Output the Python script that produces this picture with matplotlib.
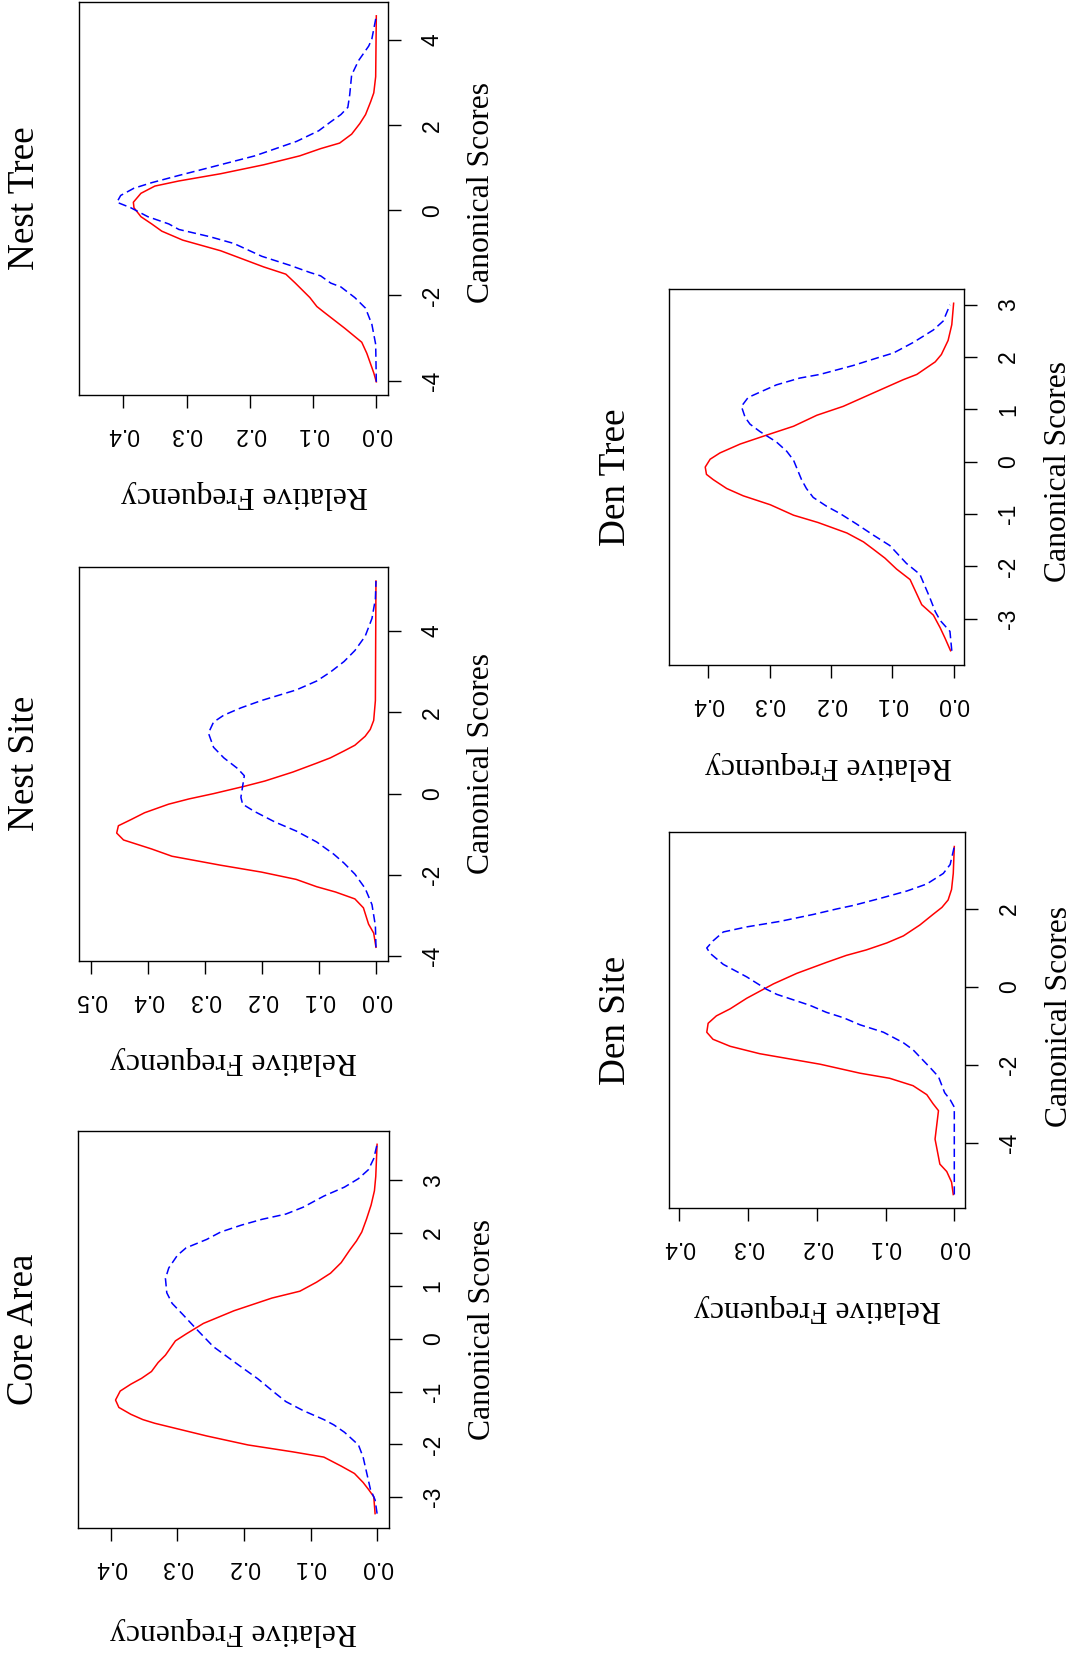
import numpy as np
import matplotlib
matplotlib.use("Agg")
import matplotlib.pyplot as plt

# canonical score (y) vs relative frequency (x) for each panel, red = solid, blue = dashed
nest_tree_red_score = [-4.03, -3.82, -3.36, -3.10, -2.77, -2.39, -2.26, -2.05, -1.71, -1.50, -1.33, -0.95,
                       -0.70, -0.49, -0.32, -0.15, 0.06, 0.19, 0.40, 0.57, 0.69, 0.86, 1.07, 1.28, 1.45,
                       1.58, 1.79, 2.04, 2.25, 2.55, 2.76, 3.14, 4.57]
nest_tree_red_dens = [0.0, 0.004, 0.015, 0.023, 0.050, 0.083, 0.094, 0.105, 0.128, 0.143, 0.178, 0.246,
                      0.306, 0.339, 0.355, 0.372, 0.383, 0.384, 0.372, 0.350, 0.312, 0.246, 0.178, 0.121, 0.088,
                      0.058, 0.039, 0.026, 0.017, 0.009, 0.004, 0.001, 0.0]
nest_tree_blue_score = [-4.03, -3.15, -2.68, -2.30, -2.05, -1.80, -1.71, -1.54, -1.46, -1.29, -1.08, -0.78,
                        -0.62, -0.45, -0.32, -0.15, 0.06, 0.19, 0.35, 0.52, 0.65, 0.82, 1.03, 1.28, 1.62,
                        1.87, 2.08, 2.25, 2.42, 2.72, 3.18, 3.52, 3.86, 4.03, 4.57]
nest_tree_blue_dens = [0.0, 0.001, 0.007, 0.017, 0.034, 0.056, 0.072, 0.088, 0.105, 0.137, 0.181, 0.225,
                       0.263, 0.312, 0.328, 0.361, 0.388, 0.410, 0.404, 0.383, 0.355, 0.312, 0.257, 0.192, 0.126,
                       0.091, 0.072, 0.056, 0.045, 0.042, 0.039, 0.028, 0.012, 0.007, 0.0]

nest_site_red_score = [-3.78, -3.43, -3.21, -2.81, -2.59, -2.42, -2.29, -2.11, -1.93, -1.76, -1.54, -1.36,
                       -1.14, -0.97, -0.79, -0.64, -0.47, -0.26, -0.13, 0.0, 0.18, 0.31, 0.53, 0.75, 0.88,
                       1.05, 1.19, 1.41, 1.58, 1.80, 2.29, 5.23]
nest_site_red_dens = [0.0, 0.004, 0.013, 0.022, 0.037, 0.071, 0.104, 0.140, 0.201, 0.273, 0.358, 0.394,
                      0.443, 0.455, 0.452, 0.430, 0.406, 0.364, 0.328, 0.285, 0.231, 0.195, 0.146, 0.104, 0.080,
                      0.056, 0.037, 0.019, 0.010, 0.004, 0.001, 0.0]
nest_site_blue_score = [-3.78, -3.25, -2.73, -2.33, -1.98, -1.71, -1.49, -1.19, -0.92, -0.70, -0.44, -0.26,
                        -0.09, 0.18, 0.44, 0.62, 0.88, 1.14, 1.49, 1.76, 1.93, 2.11, 2.29, 2.55, 2.77,
                        2.99, 3.25, 3.52, 3.87, 4.31, 4.79, 5.23]
nest_site_blue_dens = [0.0, 0.001, 0.007, 0.019, 0.037, 0.056, 0.074, 0.104, 0.140, 0.177, 0.213, 0.234,
                       0.237, 0.234, 0.231, 0.243, 0.267, 0.285, 0.294, 0.285, 0.267, 0.237, 0.201, 0.140, 0.104,
                       0.080, 0.056, 0.037, 0.019, 0.007, 0.001, 0.0]

core_red_score = [-3.31, -2.99, -2.85, -2.72, -2.55, -2.41, -2.24, -2.14, -2.01, -1.84, -1.60, -1.53, -1.43,
                  -1.30, -1.16, -0.99, -0.86, -0.75, -0.62, -0.45, -0.31, -0.04, 0.09, 0.29, 0.53, 0.77,
                  0.90, 1.07, 1.24, 1.44, 1.68, 1.85, 2.02, 2.26, 2.53, 2.80, 3.07, 3.68]
core_red_dens = [0.003, 0.005, 0.013, 0.021, 0.034, 0.054, 0.080, 0.127, 0.194, 0.256, 0.334, 0.352, 0.370,
                 0.388, 0.393, 0.386, 0.370, 0.354, 0.339, 0.329, 0.318, 0.303, 0.287, 0.261, 0.215, 0.158,
                 0.116, 0.091, 0.070, 0.054, 0.041, 0.031, 0.023, 0.016, 0.009, 0.004, 0.002, 0.0]
core_blue_score = [-3.31, -3.05, -2.85, -2.24, -2.01, -1.77, -1.63, -1.53, -1.36, -1.19, -1.03, -0.76, -0.48,
                   -0.15, 0.19, 0.46, 0.67, 0.87, 1.14, 1.34, 1.58, 1.72, 1.88, 2.02, 2.15, 2.26, 2.36,
                   2.49, 2.70, 2.87, 3.03, 3.20, 3.41, 3.68]
core_blue_dens = [0.0, 0.003, 0.010, 0.021, 0.028, 0.049, 0.065, 0.080, 0.111, 0.137, 0.153, 0.179, 0.210,
                  0.246, 0.272, 0.292, 0.308, 0.316, 0.318, 0.313, 0.300, 0.287, 0.256, 0.235, 0.204, 0.173,
                  0.137, 0.111, 0.080, 0.049, 0.028, 0.013, 0.005, 0.0]

den_tree_red_score = [-3.61, -3.37, -3.17, -2.93, -2.73, -2.25, -2.05, -1.84, -1.67, -1.53, -1.36, -1.16,
                      -1.02, -0.82, -0.65, -0.51, -0.34, -0.24, -0.10, 0.05, 0.17, 0.34, 0.51, 0.68, 0.89,
                      1.06, 1.30, 1.57, 1.67, 1.91, 2.05, 2.32, 2.62, 3.03]
den_tree_red_dens = [0.005, 0.014, 0.022, 0.033, 0.052, 0.071, 0.093, 0.112, 0.131, 0.147, 0.174, 0.221,
                     0.261, 0.299, 0.343, 0.370, 0.392, 0.403, 0.405, 0.397, 0.381, 0.348, 0.305, 0.261, 0.223,
                     0.180, 0.134, 0.082, 0.060, 0.030, 0.020, 0.009, 0.003, 0.0]
den_tree_blue_score = [-3.61, -3.24, -3.03, -2.86, -2.59, -2.15, -1.94, -1.60, -1.40, -1.19, -0.99, -0.85,
                       -0.68, -0.51, -0.34, 0.03, 0.20, 0.38, 0.58, 0.72, 0.85, 1.06, 1.23, 1.33, 1.47,
                       1.60, 1.67, 1.84, 1.98, 2.08, 2.28, 2.52, 2.69, 3.00]
den_tree_blue_dens = [0.003, 0.006, 0.022, 0.030, 0.039, 0.055, 0.077, 0.104, 0.131, 0.158, 0.185, 0.207,
                      0.229, 0.240, 0.248, 0.261, 0.272, 0.289, 0.316, 0.332, 0.340, 0.346, 0.335, 0.316, 0.289,
                      0.251, 0.218, 0.164, 0.126, 0.098, 0.066, 0.033, 0.017, 0.006]

den_site_red_score = [-5.32, -5.00, -4.73, -4.54, -4.08, -3.90, -3.17, -2.99, -2.76, -2.53, -2.34, -2.21,
                      -1.98, -1.71, -1.52, -1.34, -1.16, -0.93, -0.74, -0.56, -0.29, 0.08, 0.35, 0.63, 0.81,
                      0.95, 1.13, 1.31, 1.59, 1.86, 2.04, 2.23, 2.50, 2.91, 3.60]
den_site_red_dens = [0.0015, 0.004, 0.011, 0.021, 0.026, 0.028, 0.023, 0.031, 0.040, 0.060, 0.094, 0.137,
                     0.195, 0.283, 0.326, 0.351, 0.360, 0.358, 0.346, 0.326, 0.302, 0.263, 0.229, 0.186, 0.157,
                     0.128, 0.098, 0.074, 0.050, 0.031, 0.018, 0.009, 0.004, 0.0015, 0.0]
den_site_blue_score = [-5.32, -3.08, -2.89, -2.71, -2.30, -2.07, -1.61, -1.43, -1.16, -0.97, -0.79, -0.65,
                       -0.47, -0.33, -0.19, -0.06, 0.26, 0.58, 0.86, 1.00, 1.18, 1.41, 1.54, 1.68, 1.86,
                       2.00, 2.09, 2.27, 2.46, 2.64, 2.91, 3.14, 3.60]
den_site_blue_dens = [0.0, 0.0, 0.006, 0.014, 0.023, 0.035, 0.060, 0.074, 0.103, 0.137, 0.161, 0.186,
                      0.210, 0.234, 0.258, 0.273, 0.302, 0.336, 0.355, 0.360, 0.351, 0.336, 0.302, 0.254, 0.205,
                      0.171, 0.147, 0.108, 0.069, 0.040, 0.016, 0.006, 0.0]

titles = ["Nest Tree", "Nest Site", "Core Area", "Den Tree", "Den Site"]

W, H = 1077, 1659
fig = plt.figure(figsize=(W / 100, H / 100), dpi=100)

serif = "Liberation Serif"
sans = "Liberation Sans"


def panel(box, title, red, blue, dens_lim, score_lim, dens_ticks, score_ticks,
          rf_dx=0, rf_off=100, cs_dy=0):
    # box is in pixels: left, top, right, bottom (the whole page is turned 90 degrees)
    l, t, r, b = box
    ax = fig.add_axes([l / W, 1 - b / H, (r - l) / W, (b - t) / H])
    ax.plot(red[1], red[0], color="#ff0000", lw=1.1)
    ax.plot(blue[1], blue[0], color="#0000ff", lw=1.1, linestyle=(0, (5.4, 2.8)))
    ax.set_xlim(*dens_lim)
    ax.set_ylim(*score_lim)
    ax.yaxis.tick_right()
    ax.set_xticks(dens_ticks)
    ax.set_xticklabels(["%.1f" % v for v in dens_ticks])
    ax.set_yticks(score_ticks)
    ax.set_yticklabels(["%d" % v for v in score_ticks])
    ax.tick_params(axis="x", length=9.0, width=1.0, pad=19.5, labelrotation=180, labelsize=16.5)
    ax.tick_params(axis="y", length=9.7, width=1.0, pad=22.3, labelrotation=90, labelsize=16.5)
    for lab in ax.get_xticklabels() + ax.get_yticklabels():
        lab.set_fontfamily(sans)
        lab.set_verticalalignment("center")
        lab.set_horizontalalignment("center")
    for sp in ax.spines.values():
        sp.set_linewidth(1.0)
    cx = (l + r) / 2
    cy = (t + b) / 2
    fig.text((l - 54) / W, 1 - cy / H, title, rotation=90, ha="center", va="center",
             fontsize=26.7, family=serif)
    fig.text((r + 94) / W, 1 - (cy + cs_dy) / H, "Canonical Scores", rotation=90,
             ha="center", va="center", fontsize=22.8, family=serif)
    fig.text((cx + rf_dx) / W, 1 - (b + rf_off) / H, "Relative Frequency", rotation=180,
             ha="center", va="center", fontsize=22.8, family=serif)
    return ax


panel((78.5, 1.8, 387.7, 394.6), titles[0],
      (nest_tree_red_score, nest_tree_red_dens), (nest_tree_blue_score, nest_tree_blue_dens),
      (0.4707, -0.018), (-4.33, 4.90), [0.0, 0.1, 0.2, 0.3, 0.4], [-4, -2, 0, 2, 4],
      rf_dx=11, cs_dy=-6)
panel((78.5, 566.8, 387.7, 960.7), titles[1],
      (nest_site_red_score, nest_site_red_dens), (nest_site_blue_score, nest_site_blue_dens),
      (0.522, -0.0206), (-4.11, 5.58), [0.0, 0.1, 0.2, 0.3, 0.4, 0.5], [-4, -2, 0, 2, 4])
panel((77.8, 1131.1, 388.8, 1527.9), titles[2],
      (core_red_score, core_red_dens), (core_blue_score, core_blue_dens),
      (0.4497, -0.0176), (-3.58, 3.93), [0.0, 0.1, 0.2, 0.3, 0.4], [-3, -2, -1, 0, 1, 2, 3],
      rf_off=104)
panel((669.3, 288.6, 964.3, 665.4), titles[3],
      (den_tree_red_score, den_tree_red_dens), (den_tree_blue_score, den_tree_blue_dens),
      (0.4636, -0.0174), (-3.89, 3.31), [0.0, 0.1, 0.2, 0.3, 0.4], [-3, -2, -1, 0, 1, 2, 3],
      rf_dx=12, cs_dy=-6)
panel((669.3, 832.1, 965.3, 1208.2), titles[4],
      (den_site_red_score, den_site_red_dens), (den_site_blue_score, den_site_blue_dens),
      (0.4145, -0.016), (-5.67, 3.97), [0.0, 0.1, 0.2, 0.3, 0.4], [-4, -2, 0, 2],
      cs_dy=-4)

fig.savefig("out.png", dpi=100)
